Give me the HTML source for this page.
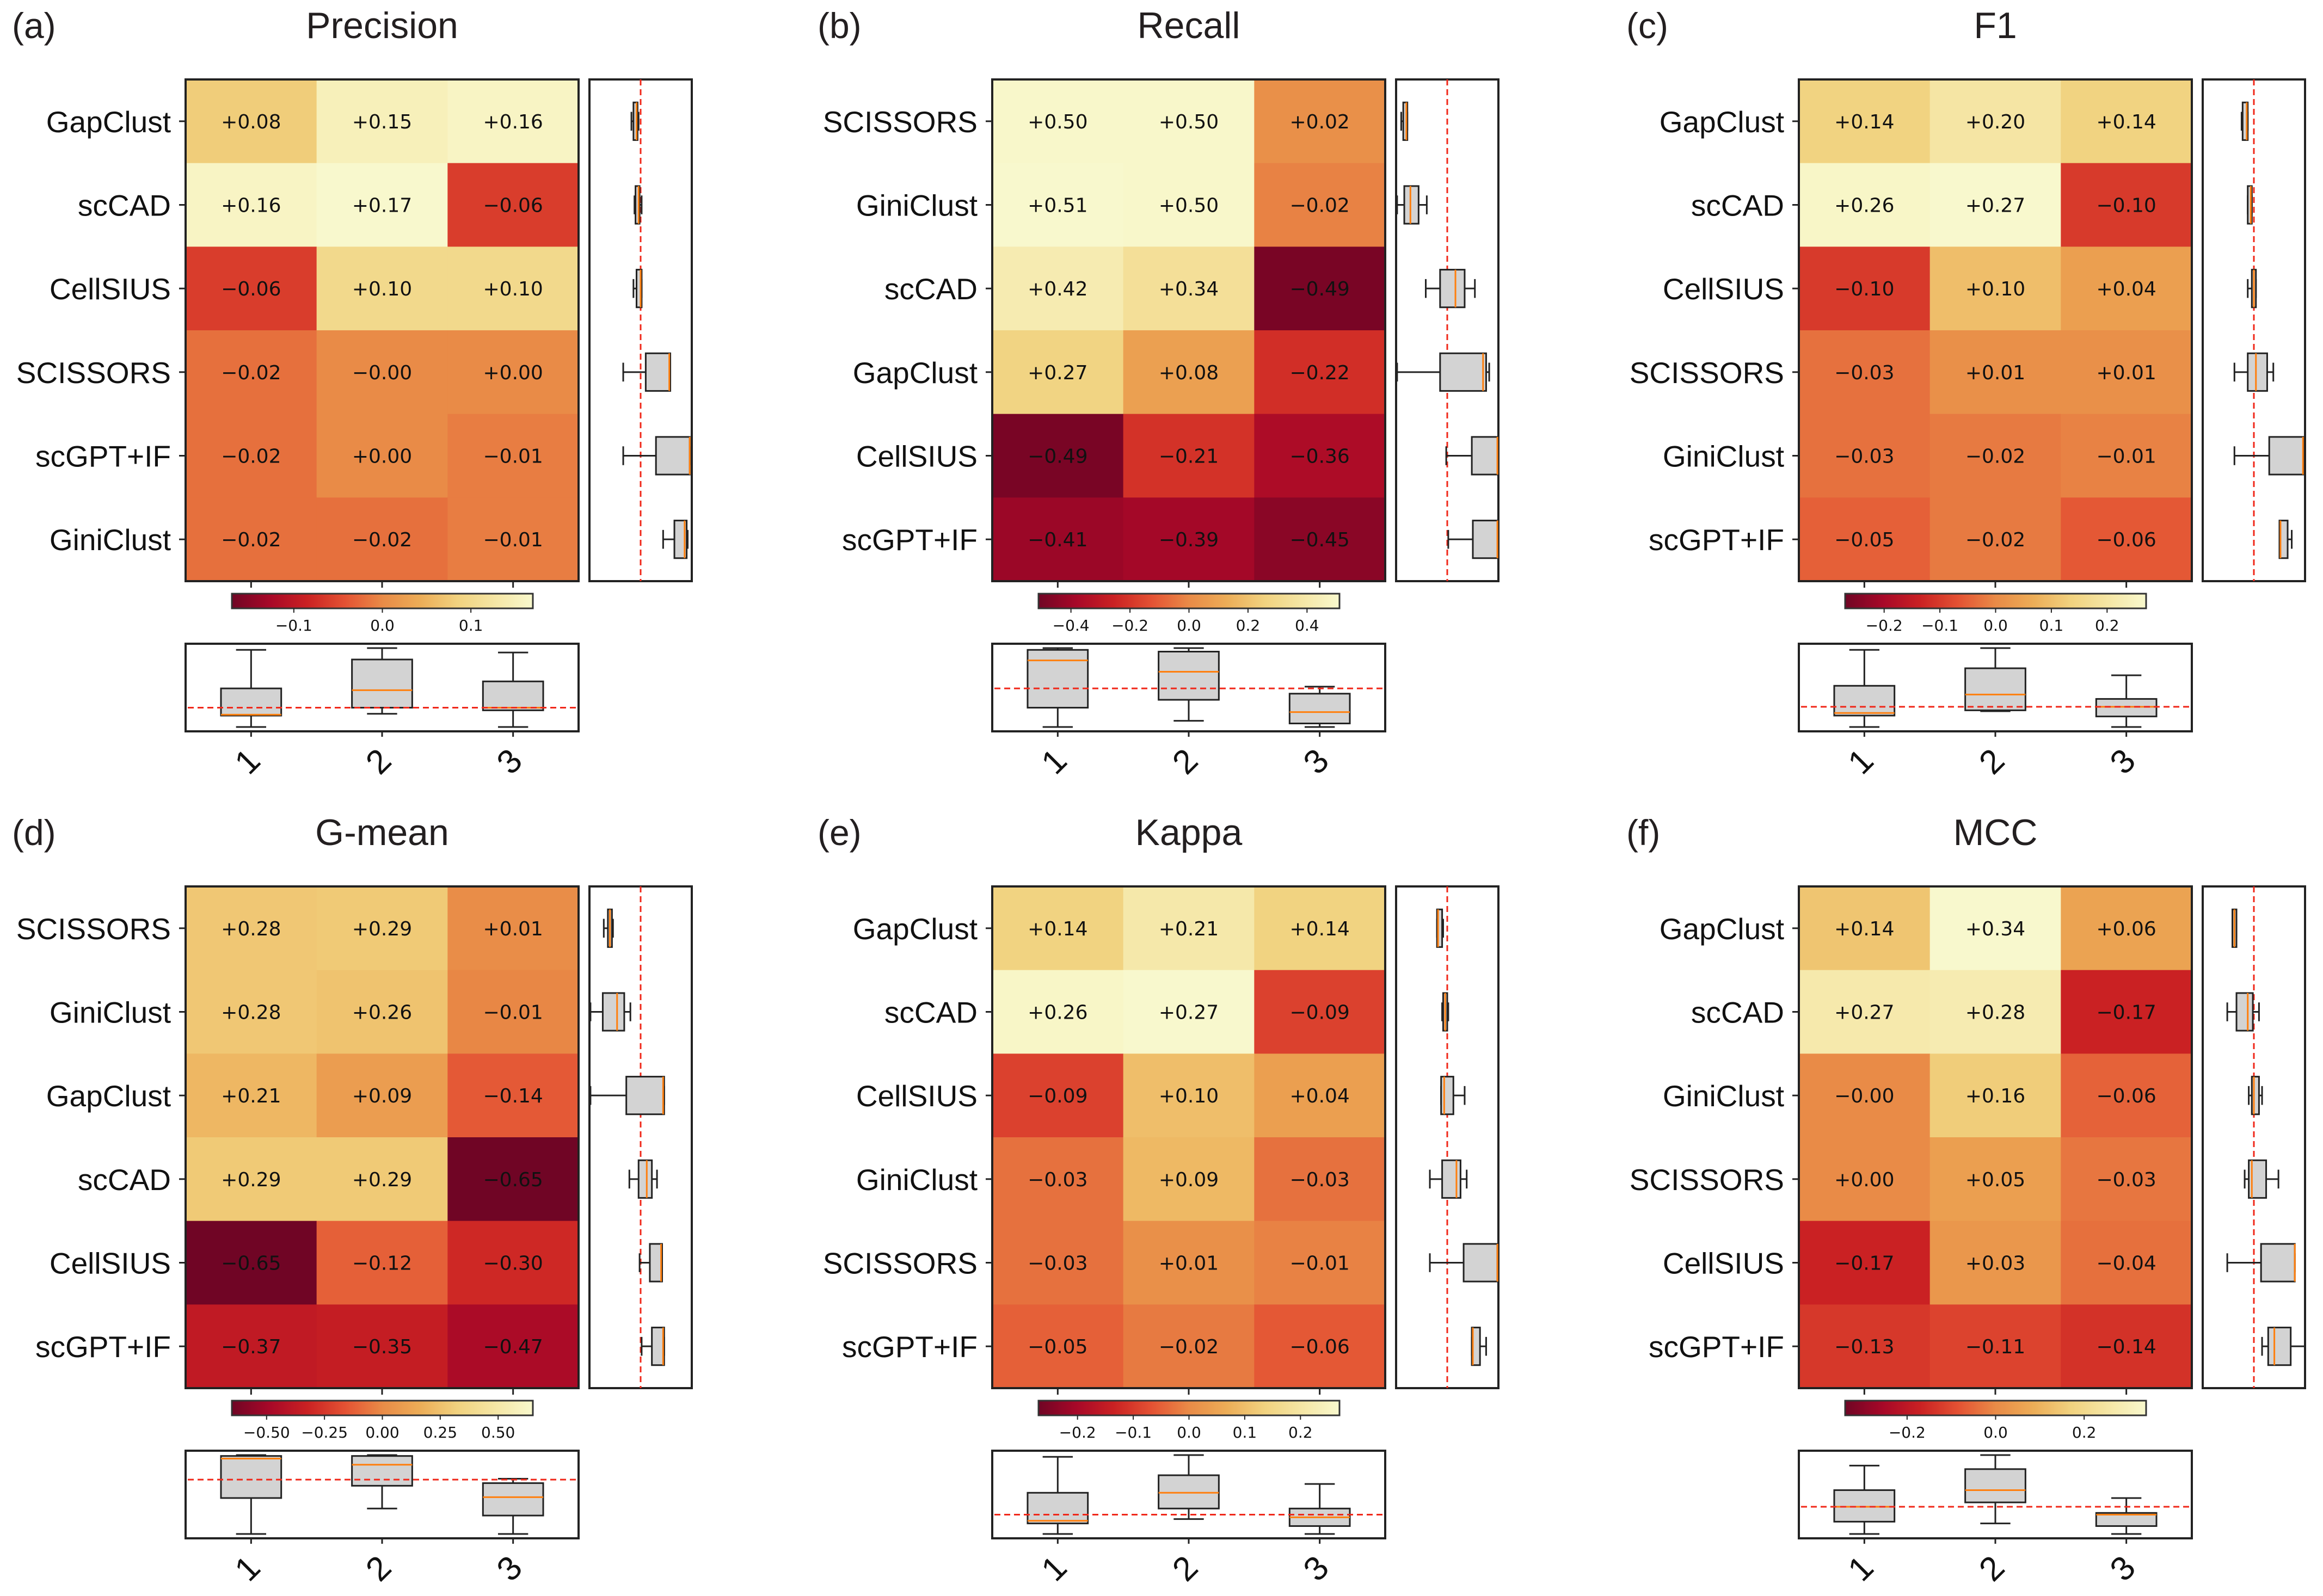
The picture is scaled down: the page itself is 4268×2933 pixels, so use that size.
<!DOCTYPE html>
<html><head><meta charset="utf-8"><style>
html,body{margin:0;padding:0;background:#fff;}
svg{display:block;}
</style></head><body>
<svg id="fig" width="4268" height="2933" viewBox="0 0 4268 2933" xmlns="http://www.w3.org/2000/svg"></svg>
<script>
// ---------- data ----------
const titles = ["Precision","Recall","F1","G-mean","Kappa","MCC"];
const panelLetters = ["(a)","(b)","(c)","(d)","(e)","(f)"];
const columns = ["1","2","3"];

const precisionRows = ["GapClust","scCAD","CellSIUS","SCISSORS","scGPT+IF","GiniClust"];
const precisionValues = [[0.08,0.15,0.16],[0.16,0.17,-0.06],[-0.06,0.10,0.10],[-0.02,-0,0.00],[-0.02,0.00,-0.01],[-0.02,-0.02,-0.01]];
const recallRows = ["SCISSORS","GiniClust","scCAD","GapClust","CellSIUS","scGPT+IF"];
const recallValues = [[0.50,0.50,0.02],[0.51,0.50,-0.02],[0.42,0.34,-0.49],[0.27,0.08,-0.22],[-0.49,-0.21,-0.36],[-0.41,-0.39,-0.45]];
const f1Rows = ["GapClust","scCAD","CellSIUS","SCISSORS","GiniClust","scGPT+IF"];
const f1Values = [[0.14,0.20,0.14],[0.26,0.27,-0.10],[-0.10,0.10,0.04],[-0.03,0.01,0.01],[-0.03,-0.02,-0.01],[-0.05,-0.02,-0.06]];
const gmeanRows = ["SCISSORS","GiniClust","GapClust","scCAD","CellSIUS","scGPT+IF"];
const gmeanValues = [[0.28,0.29,0.01],[0.28,0.26,-0.01],[0.21,0.09,-0.14],[0.29,0.29,-0.65],[-0.65,-0.12,-0.30],[-0.37,-0.35,-0.47]];
const kappaRows = ["GapClust","scCAD","CellSIUS","GiniClust","SCISSORS","scGPT+IF"];
const kappaValues = [[0.14,0.21,0.14],[0.26,0.27,-0.09],[-0.09,0.10,0.04],[-0.03,0.09,-0.03],[-0.03,0.01,-0.01],[-0.05,-0.02,-0.06]];
const mccRows = ["GapClust","scCAD","GiniClust","SCISSORS","CellSIUS","scGPT+IF"];
const mccValues = [[0.14,0.34,0.06],[0.27,0.28,-0.17],[-0,0.16,-0.06],[0.00,0.05,-0.03],[-0.17,0.03,-0.04],[-0.13,-0.11,-0.14]];

const colorLimits = [0.17,0.51,0.27,0.65,0.27,0.34];
const precisionTicks = [-0.1,0,0.1];
const recallTicks = [-0.4,-0.2,0,0.2,0.4];
const f1Ticks = [-0.2,-0.1,0,0.1,0.2];
const gmeanTicks = [-0.5,-0.25,0,0.25,0.5];
const kappaTicks = [-0.2,-0.1,0,0.1,0.2];
const mccTicks = [-0.2,0,0.2];
const tickDecimals = [1,1,1,2,1,1];

const precisionRowBoxes = [[.41,.43,.46,.47,.48],[.44,.45,.48,.49,.51],[.43,.46,.50,.51,.51],[.33,.55,.78,.79,.79],[.33,.65,.98,.98,.98],[.72,.83,.93,.95,.96]];
const recallRowBoxes = [[.05,.07,.10,.11,.11],[.01,.08,.14,.22,.30],[.29,.43,.58,.67,.77],[.01,.43,.85,.88,.91],[.49,.74,.99,1,1],[.51,.75,.99,1,1]];
const f1RowBoxes = [[.38,.39,.43,.44,.44],[.44,.44,.47,.48,.48],[.44,.48,.50,.52,.52],[.31,.44,.52,.63,.69],[.31,.65,.98,.99,.99],[.75,.75,.76,.83,.87]];
const gmeanRowBoxes = [[.14,.18,.20,.22,.23],[.01,.13,.27,.34,.40],[.01,.36,.72,.73,.73],[.39,.48,.56,.61,.66],[.49,.59,.70,.71,.71],[.51,.61,.72,.73,.73]];
const kappaRowBoxes = [[.40,.40,.41,.45,.46],[.45,.46,.48,.50,.51],[.44,.44,.47,.56,.67],[.33,.45,.59,.63,.69],[.33,.66,.99,.99,.99],[.74,.74,.75,.82,.88]];
const mccRowBoxes = [[.29,.29,.31,.33,.33],[.24,.33,.44,.49,.55],[.45,.48,.50,.55,.58],[.41,.45,.48,.62,.74],[.24,.57,.90,.90,.90],[.58,.64,.70,.86,1.0]];
const rowBoxRef = 0.5;

const precisionColBoxes = [[.05,.18,.19,.49,.93],[.20,.27,.47,.82,.95],[.05,.24,.27,.57,.90]];
const recallColBoxes = [[.05,.27,.81,.93,.95],[.12,.36,.68,.91,.95],[.05,.09,.22,.43,.51]];
const f1ColBoxes = [[.05,.18,.21,.52,.93],[.23,.24,.42,.72,.95],[.05,.17,.28,.37,.64]];
const gmeanColBoxes = [[.05,.46,.91,.94,.95],[.34,.60,.84,.94,.95],[.05,.26,.47,.63,.68]];
const kappaColBoxes = [[.05,.17,.20,.52,.93],[.22,.34,.52,.72,.95],[.05,.14,.24,.34,.62]];
const mccColBoxes = [[.05,.19,.36,.55,.83],[.17,.41,.55,.79,.95],[.05,.14,.27,.29,.46]];
const colBoxRefs = [0.27,0.49,0.28,0.67,0.27,0.36];

const allRows = [precisionRows,recallRows,f1Rows,gmeanRows,kappaRows,mccRows];
const allValues = [precisionValues,recallValues,f1Values,gmeanValues,kappaValues,mccValues];
const allTicks = [precisionTicks,recallTicks,f1Ticks,gmeanTicks,kappaTicks,mccTicks];
const allRowBoxes = [precisionRowBoxes,recallRowBoxes,f1RowBoxes,gmeanRowBoxes,kappaRowBoxes,mccRowBoxes];
const allColBoxes = [precisionColBoxes,recallColBoxes,f1ColBoxes,gmeanColBoxes,kappaColBoxes,mccColBoxes];

// ---------- helpers ----------
const NS = "http://www.w3.org/2000/svg";
const svg = document.getElementById('fig');
function mk(tag, attrs, parent){
  const e = document.createElementNS(NS, tag);
  for (const k in attrs) e.setAttribute(k, attrs[k]);
  (parent||svg).appendChild(e);
  return e;
}
const stops = ["#800026","#bd0026","#e31a1c","#fc4e2a","#fd8d3c","#feb24c","#fed976","#ffeda0","#ffffcc"];
function hex(h){return [parseInt(h.substr(1,2),16),parseInt(h.substr(3,2),16),parseInt(h.substr(5,2),16)];}
function cmap(t){
  t = Math.max(0,Math.min(1,t));
  const p = t*(stops.length-1), i = Math.min(stops.length-2, Math.floor(p)), f = p-i;
  const a = hex(stops[i]), b = hex(stops[i+1]);
  const c = a.map((v,k)=>v+(b[k]-v)*f);
  const g = (c[0]+c[1]+c[2])/3;
  return "rgb("+c.map(v=>Math.max(0,Math.round(v*0.84+g*0.16 - 4))).join(",")+")";
}
function fmtVal(v){
  const neg = v<0 || Object.is(v,-0);
  return (neg?"\u2212":"+") + Math.abs(v).toFixed(2);
}
function fmtTick(v,d){ return (v<0?"\u2212":"") + Math.abs(v).toFixed(d); }

const SANS = '"DejaVu Sans","Liberation Sans",sans-serif';
const LBL = '"Liberation Sans","DejaVu Sans",sans-serif';

// ---------- draw ----------
const HW = 722, HH = 922;
for (let p=0; p<6; p++){
  const col = p%3, row = Math.floor(p/3);
  const ox = 341 + col*1482, oy = 146 + row*1483;
  const rows = allRows[p], vals = allValues[p], lim = colorLimits[p];
  const g = mk('g',{});
  
  

  const cw = HW/columns.length, rh = HH/rows.length;
  const xBand = c => ox + c*cw;
  const yBand = r => oy + r*rh;
  const colorScale = v => cmap((v + lim)/(2*lim));

  const tt = mk('text',{x:ox+HW/2, y:oy-76, 'text-anchor':'middle','font-family':LBL,'font-size':68,fill:'#231f20'},g);
  tt.textContent = titles[p];
  
  
  const lt = mk('text',{x:[22,1502,2988][col], y:oy-76,'font-family':LBL,'font-size':66,fill:'#231f20'},g);
  lt.textContent = panelLetters[p];
  
  

  for (let r=0;r<rows.length;r++){
    for (let c=0;c<columns.length;c++){
      const v = vals[r][c];
      const cell = mk('rect',{x:xBand(c), y:yBand(r), width:cw+0.5, height:rh+0.5, fill:colorScale(v)},g);
      
      
      const t = mk('text',{x:xBand(c)+cw/2, y:yBand(r)+rh/2+13,'text-anchor':'middle','font-family':SANS,'font-size':36,fill:'#111'},g);
      t.textContent = fmtVal(v);
      
      
    }
    const yl = mk('text',{x:ox-27, y:yBand(r)+rh/2+20,'text-anchor':'end','font-family':LBL,'font-size':55,fill:'#111'},g);
    yl.textContent = rows[r];
    
    
    mk('line',{x1:ox-12,x2:ox,y1:yBand(r)+rh/2,y2:yBand(r)+rh/2,stroke:'#222','stroke-width':3},g);
  }
  const hb = mk('rect',{x:ox,y:oy,width:HW,height:HH,fill:'none',stroke:'#222','stroke-width':4},g);
  
  
  for (let c=0;c<columns.length;c++){
    mk('line',{x1:xBand(c)+cw/2,x2:xBand(c)+cw/2,y1:oy+HH,y2:oy+HH+12,stroke:'#222','stroke-width':3},g);
  }

  const rx = ox+742, rw = 188;
  const rScale = v => rx + v*rw;
  const rp = mk('rect',{x:rx,y:oy,width:rw,height:HH,fill:'#fff',stroke:'#222','stroke-width':4},g);
  
  
  mk('line',{x1:rScale(rowBoxRef),x2:rScale(rowBoxRef),y1:oy,y2:oy+HH,stroke:'#f0281a','stroke-width':3,'stroke-dasharray':'11,7'},g);
  allRowBoxes[p].forEach((b,r)=>{
    const cy = yBand(r)+rh/2, bh = rh*0.45;
    const bg = mk('g',{},g);
    
    
    mk('line',{x1:rScale(b[0]),x2:rScale(b[1]),y1:cy,y2:cy,stroke:'#222','stroke-width':3},bg);
    mk('line',{x1:rScale(b[3]),x2:rScale(b[4]),y1:cy,y2:cy,stroke:'#222','stroke-width':3},bg);
    mk('line',{x1:rScale(b[0]),x2:rScale(b[0]),y1:cy-bh/4,y2:cy+bh/4,stroke:'#222','stroke-width':3},bg);
    mk('line',{x1:rScale(b[4]),x2:rScale(b[4]),y1:cy-bh/4,y2:cy+bh/4,stroke:'#222','stroke-width':3},bg);
    mk('rect',{x:rScale(b[1]),y:cy-bh/2,width:Math.max(2,rScale(b[3])-rScale(b[1])),height:bh,fill:'#d3d3d3',stroke:'#222','stroke-width':3},bg);
    mk('line',{x1:rScale(b[2]),x2:rScale(b[2]),y1:cy-bh/2,y2:cy+bh/2,stroke:'#ff7f0e','stroke-width':3},bg);
  });

  const cbx = ox+85, cby = oy+945, cbw = 553, cbh = 27;
  const cbScale = v => cbx + (v+lim)/(2*lim)*cbw;
  const gid = 'cb'+p;
  const defs = mk('defs',{},g);
  const lg = mk('linearGradient',{id:gid,x1:0,x2:1,y1:0,y2:0},defs);
  for (let k=0;k<=40;k++){ mk('stop',{offset:(k/40),'stop-color':cmap(k/40)},lg); }
  const cb = mk('rect',{x:cbx,y:cby,width:cbw,height:cbh,fill:'url(#'+gid+')',stroke:'#333','stroke-width':3},g);
  
  
  allTicks[p].forEach(tv=>{
    const x = cbScale(tv);
    mk('line',{x1:x,x2:x,y1:cby+cbh,y2:cby+cbh+8,stroke:'#222','stroke-width':2},g);
    const t = mk('text',{x:x,y:cby+68,'text-anchor':'middle','font-family':SANS,'font-size':28,fill:'#111'},g);
    t.textContent = fmtTick(tv, tickDecimals[p]);
    
    
  });

  const by = oy+1037, bhh = 161;
  const yScale = v => by + bhh - v*bhh;
  const bp = mk('rect',{x:ox,y:by,width:HW,height:bhh,fill:'#fff',stroke:'#222','stroke-width':4},g);
  
  
  allColBoxes[p].forEach((b,c)=>{
    const cx = xBand(c)+cw/2, bw = cw*0.46;
    const bg = mk('g',{},g);
    
    
    mk('line',{x1:cx,x2:cx,y1:yScale(b[0]),y2:yScale(b[1]),stroke:'#222','stroke-width':3},bg);
    mk('line',{x1:cx,x2:cx,y1:yScale(b[3]),y2:yScale(b[4]),stroke:'#222','stroke-width':3},bg);
    mk('line',{x1:cx-bw/4,x2:cx+bw/4,y1:yScale(b[0]),y2:yScale(b[0]),stroke:'#222','stroke-width':3},bg);
    mk('line',{x1:cx-bw/4,x2:cx+bw/4,y1:yScale(b[4]),y2:yScale(b[4]),stroke:'#222','stroke-width':3},bg);
    mk('rect',{x:cx-bw/2,y:yScale(b[3]),width:bw,height:Math.max(2,yScale(b[1])-yScale(b[3])),fill:'#d3d3d3',stroke:'#222','stroke-width':3},bg);
    mk('line',{x1:cx-bw/2,x2:cx+bw/2,y1:yScale(b[2]),y2:yScale(b[2]),stroke:'#ff7f0e','stroke-width':3},bg);
    mk('line',{x1:cx,x2:cx,y1:by+bhh,y2:by+bhh+10,stroke:'#222','stroke-width':3},g);
    const tx = cx-6, ty = oy+1254;
    const t = mk('text',{x:tx,y:ty+20,'text-anchor':'middle','font-family':LBL,'font-size':62,fill:'#111',transform:'rotate(-45 '+tx+' '+ty+')'},g);
    t.textContent = columns[c];
    
    
  });
  mk('line',{x1:ox+4,x2:ox+HW-4,y1:yScale(colBoxRefs[p]),y2:yScale(colBoxRefs[p]),stroke:'#f0281a','stroke-width':3,'stroke-dasharray':'11,7'},g);
}
</script>
</body></html>
